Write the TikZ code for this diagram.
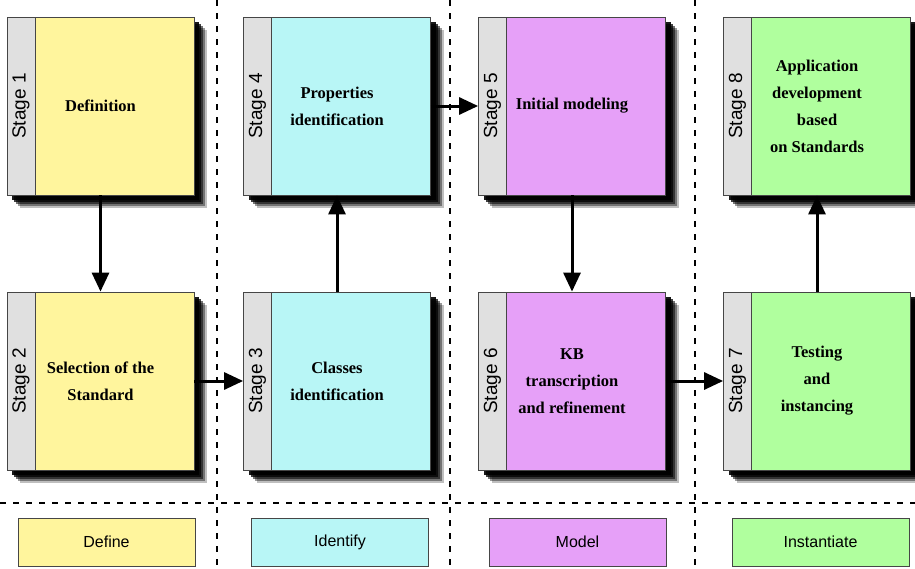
\documentclass[tikz,border=0pt]{standalone}
\usepackage{fontspec}
\setmainfont{Liberation Serif}
\setsansfont{Liberation Sans}
\usepackage{xcolor}
\definecolor{defyellow}{RGB}{255,245,157}
\definecolor{idcyan}{RGB}{184,246,246}
\definecolor{modpink}{RGB}{230,160,248}
\definecolor{insgreen}{RGB}{176,255,158}
\definecolor{taggray}{RGB}{224,224,224}
\definecolor{edgegray}{RGB}{70,70,70}
\usepackage{tikz}
\usetikzlibrary{arrows.meta, positioning, shadows}

\begin{document}
\begin{tikzpicture}[x=1pt, y=-1pt,
  softshadow/.style={
    drop shadow={shadow xshift=13pt, shadow yshift=-13pt, opacity=0.25, fill=black},
    drop shadow={shadow xshift=11pt, shadow yshift=-11pt, opacity=0.4, fill=black},
    drop shadow={shadow xshift=9pt, shadow yshift=-9pt, opacity=0.55, fill=black},
    drop shadow={shadow xshift=7pt, shadow yshift=-7pt, opacity=0.75, fill=black},
    drop shadow={shadow xshift=5pt, shadow yshift=-5pt, opacity=0.9, fill=black}},
  stagebox/.style={draw=edgegray, line width=0.8pt, minimum width=187pt,
    minimum height=178pt, inner sep=0pt, align=center,
    font=\fontsize{16.5}{27}\selectfont\bfseries, softshadow},
  stagetag/.style={draw=edgegray, line width=0.8pt, fill=taggray,
    minimum width=28pt, minimum height=178pt, inner sep=0pt},
  taglabel/.style={rotate=90, font=\sffamily\fontsize{19}{19}\selectfont},
  legendbox/.style={draw=edgegray, line width=0.6pt, minimum width=177pt,
    minimum height=48pt, inner sep=0pt, font=\sffamily\fontsize{16}{16}\selectfont},
  flow/.style={line width=3pt, -{Triangle[length=19pt, width=17pt]}},
  sep/.style={line width=1.8pt, dash pattern=on 6pt off 7pt}]
  \useasboundingbox (0,0) rectangle (915,568);

  % Phase separators
  \draw[sep] (217,0) -- (217,568);
  \draw[sep] (450,0) -- (450,568);
  \draw[sep] (695,0) -- (695,568);
  \draw[sep] (0,503) -- (915,503);

  % Define
  \node[stagebox, fill=defyellow] (s1) at (100.5,106) {Definition};
  \node[stagebox, fill=defyellow] (s2) at (100.5,381) {Selection of the\\Standard};

  % Identify
  \node[stagebox, fill=idcyan] (s3) at (337,381) {Classes\\identification};
  \node[stagebox, fill=idcyan] (s4) at (337,106) {Properties\\identification};

  % Model
  \node[stagebox, fill=modpink] (s5) at (572,106) {Initial modeling};
  \node[stagebox, fill=modpink] (s6) at (572,381) {KB\\transcription\\and refinement};

  % Instantiate
  \node[stagebox, fill=insgreen] (s7) at (817,381) {Testing\\and\\instancing};
  \node[stagebox, fill=insgreen] (s8) at (817,106) {Application\\development\\based\\on Standards};

  % Stage tags
  \foreach \n in {1,...,8} {
    \node[stagetag, right=0pt of s\n.west] (t\n) {};
    \node[taglabel] at (t\n) {Stage \n};
  }

  % Flow between stages
  \draw[flow] (s1) -- (s2);
  \draw[flow] (s2) -- (s3);
  \draw[flow] (s3) -- (s4);
  \draw[flow] (s4) -- (s5);
  \draw[flow] (s5) -- (s6);
  \draw[flow] (s6) -- (s7);
  \draw[flow] (s7) -- (s8);

  % Legend
  \node[legendbox, fill=defyellow] (define) at (106.5,542) {Define};
  \node[legendbox, fill=idcyan] (identify) at (340,542) {Identify};
  \node[legendbox, fill=modpink] (model) at (577.5,542) {Model};
  \node[legendbox, fill=insgreen] (instantiate) at (820.5,542) {Instantiate};
\end{tikzpicture}
\end{document}
